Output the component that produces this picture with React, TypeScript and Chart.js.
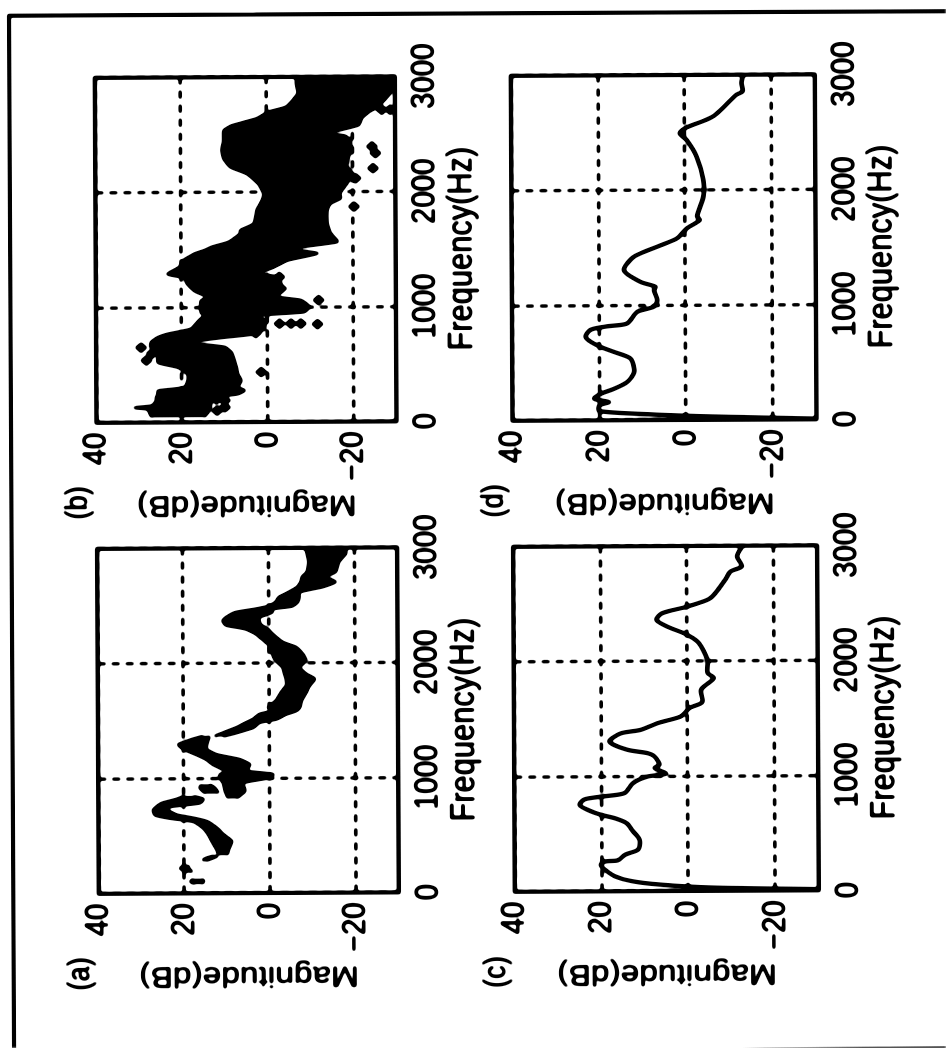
import React, { useEffect, useRef } from "react";
import { Chart, registerables } from "chart.js";

Chart.register(...registerables);

const freqTicks = [0, 1000, 2000, 3000];
const magTicks = [-20, 0, 20, 40];

// Panel (a): filled traces
const aBlob1F = [85, 102, 125];
const aBlob1Hi = [17.6, 18.6, 18];
const aBlob1Lo = [16, 15.5, 15.8];
const aBlob2F = [185, 218, 245];
const aBlob2Hi = [19.5, 21, 20];
const aBlob2Lo = [18.2, 19, 19.2];
const aBlob3F = [285, 305, 325];
const aBlob3Hi = [15.8, 15, 13];
const aBlob3Lo = [15, 13.5, 12.2];
const aMainF = [334, 378, 451, 509, 567, 625, 654, 683, 727, 756, 785, 820, 843];
const aMainHi = [12, 12.4, 13.5, 14.3, 15.5, 17.8, 23.3, 26.8, 27.2, 26.4, 25.2, 21.7, 20];
const aMainLo = [10, 9.7, 8.9, 10.8, 12.4, 14.7, 17.8, 21.7, 24, 23.3, 16.3, 15.5, 17.8];
const aDashF = [872, 915, 945];
const aDashHi = [15, 16.3, 16];
const aDashLo = [12, 12.8, 14];
const aMidF = [828, 887, 959, 1003, 1032, 1061, 1090, 1119, 1163, 1206, 1250, 1294, 1337, 1366];
const aMidHi = [9.7, 10.4, 10.8, 11.6, 11.6, 10, 11.6, 13.2, 14.7, 17, 19.8, 21.3, 18.2, 15.5];
const aMidLo = [7.7, 5.8, 6.2, 0, -0.8, 5.4, 5, 4.6, 7, 12.4, 14.7, 14.7, 14.3, 14];
const aTailF = [1366, 1395, 1439, 1483, 1512, 1555, 1584, 1613, 1672, 1744, 1802, 1860, 1904, 1962, 2020, 2079, 2137, 2180, 2253, 2297, 2331, 2369, 2398, 2442, 2471, 2494, 2529, 2573, 2616, 2660, 2703, 2747, 2791, 2878, 2951, 3000];
const aTailHi = [12.8, 10.8, 7.7, 5.4, 3.8, 2.3, -0.8, 0.3, -1.6, -2.8, -4, -4, -3.6, -3.2, -1.6, -0.8, -0.8, 0.7, 3, 5.4, 10, 10.8, 10, 7.7, 3, 0, -1.6, -2.4, -4.7, -6.7, -7.5, -7.8, -9, -9.4, -9, -8.6];
const aTailLo = [10.8, 7.7, 3.8, 2.3, -1.6, -4, -6.3, -7.1, -7.5, -8.6, -9.4, -10.6, -8.6, -7.1, -8.6, -7.8, -6.3, -3.2, -0.8, 0.3, 1.9, 2.3, 2.3, -0.8, -0.8, -5.5, -6.7, -7.1, -7.1, -12.5, -15.6, -13.3, -15.6, -16.4, -18, -18];

// Panel (b): filled trace and stray points
const bMainF = [49, 58, 87, 118, 130, 145, 188, 217, 246, 275, 304, 362, 420, 478, 522, 565, 609, 652, 696, 739, 768, 812, 884, 928, 957, 1000, 1058, 1087, 1145, 1203, 1261, 1290, 1348, 1406, 1464, 1493, 1522, 1565, 1638, 1667, 1725, 1841, 1899, 1942, 1986, 2073, 2160, 2218, 2290, 2363, 2450, 2484, 2508, 2537, 2580, 2638, 2696, 2740, 2855, 2943, 3000];
const bMainHi = [27, 27.2, 27.6, 28, 31, 27, 26, 26, 25.6, 25.6, 19.4, 18.6, 18.6, 20.8, 25.6, 25.6, 25.6, 27.2, 27.2, 25.6, 23.3, 17.8, 16, 14.7, 15.5, 15.5, 15.5, 13.9, 17, 18.6, 19.4, 23.3, 20.5, 19.6, 17, 14.7, 13, 9, 6.2, 6.2, 3, 2.3, 1.5, 0.9, 0.7, 1.9, 4.6, 8.4, 10, 10.4, 10, 10, 10, 10, 8, 2.3, -0.5, -4.7, -7.4, -7, -7];
const bMainLo = [14.5, 14.7, 14, 13.5, 13.5, 13.4, 13.2, 13.2, 7, 5.4, 7, 6.2, 7, 7.3, 7.7, 8, 8.5, 10, 18.6, 10, 3, 0.7, 0.7, 2.3, -8.6, -9.8, -7.8, -2.4, -3.2, -3.2, -2.4, 2.3, -1.6, -4.7, -11.7, -7, -8, -16.4, -14.8, -14.5, -14, -14, -14.8, -17.2, -17, -18.7, -20, -18.7, -19, -19.5, -19.5, -18.3, -14, -17, -21.5, -22.2, -24, -26, -28.9, -29.6, -29.6];
const bDotF = [101, 130, 190, 200, 435, 540, 600, 652, 774, 855, 855, 855, 849, 1058, 1160, 1261, 1870, 2116, 2203, 2334, 2392, 2711, 2711];
const bDotM = [11.8, 10, 10, 12, 1.5, 28.3, 27, 29.5, 2.7, -2.8, -5.5, -7.8, -11.7, -12, -3.2, -2.8, -20.3, -20.7, -24.8, -25.4, -24.6, -26.9, -28.9];

// Panel (c): smoothed spectrum
const cLineF = [10, 29, 58, 87, 130, 188, 231, 260, 269, 318, 362, 448, 521, 593, 636, 665, 709, 752, 801, 824, 853, 940, 998, 1021, 1070, 1099, 1172, 1200, 1230, 1302, 1374, 1403, 1461, 1519, 1591, 1640, 1750, 1851, 1895, 2011, 2155, 2228, 2300, 2358, 2416, 2473, 2546, 2705, 2777, 2821, 2907, 2994];
const cLineM = [-30, -5.4, 6.9, 13, 16.9, 19.2, 20.2, 19.2, 16.2, 14.6, 11.5, 11.2, 12.7, 14.2, 16.9, 20, 23.1, 25, 23.9, 20, 14.6, 12.7, 9.2, 5, 7.7, 6.5, 7.7, 9.2, 13.9, 18.1, 15.4, 10.8, 6.9, 1.5, -0.4, -3.4, -3.1, -6.1, -4.6, -4.6, -2.7, 0, 4.6, 7.1, 5.8, 0, -5.4, -8.8, -10, -12.7, -11.5, -12.7];

// Panel (d): smoothed spectrum
const dLineF = [6, 29, 52, 81, 130, 159, 188, 232, 275, 333, 420, 536, 594, 652, 725, 789, 818, 841, 942, 986, 1044, 1131, 1160, 1203, 1305, 1421, 1508, 1580, 1667, 1739, 1768, 1942, 2087, 2290, 2435, 2493, 2537, 2638, 2826, 2855, 2928, 2986];
const dLineM = [-30, -6.5, 8.9, 20, 20, 17.7, 21.2, 19.6, 16.5, 13.5, 11.9, 12.7, 16.5, 20.4, 23.1, 21.9, 18.1, 13.5, 11.2, 7.3, 6.5, 7.3, 6.9, 10.4, 14.2, 11.9, 6.5, 1.9, -0.4, -3.4, -2.7, -4.2, -4.2, -2.7, -0.4, 1.2, 0, -6.5, -11.9, -13.4, -13.1, -13.4];

const FONT = "'Liberation Sans', Arial, sans-serif";
const TICK_SIZE = 33.5;
const X_TITLE_SIZE = 35;
const Y_TITLE_SIZE = 33.5;
const TAG_SIZE = 31;

type Pts = { x: number; y: number }[];
const zip = (xs: number[], ys: number[]): Pts => xs.map((x, i) => ({ x, y: ys[i] }));

function band(f: number[], hi: number[], lo: number[]) {
  const base = { borderColor: "#000", backgroundColor: "#000", borderWidth: 2.5, pointRadius: 0, tension: 0.15 };
  return [
    { ...base, data: zip(f, hi), fill: false },
    { ...base, data: zip(f, lo), fill: "-1" },
  ];
}
function line(f: number[], m: number[]) {
  return [{ data: zip(f, m), borderColor: "#000", borderWidth: 3.5, pointRadius: 0, tension: 0.25, fill: false }];
}
function dots(f: number[], m: number[]) {
  return [{ data: zip(f, m), showLine: false, pointStyle: "rectRot", pointRadius: 6, pointBackgroundColor: "#000", pointBorderColor: "#000", pointBorderWidth: 0 }];
}

// The scanned figure is squeezed along its frequency axis.
const SX = 0.88;
const PLOT_W = 345 / SX;
const LEFT_SPACE = 142;
const TOP_SPACE = 45;
const RIGHT_SPACE = 60;
const BOTTOM_SPACE = 90;

const noPadding = (s: any) => {
  s.paddingTop = 0;
  s.paddingBottom = 0;
  s.paddingLeft = 0;
  s.paddingRight = 0;
};

function Panel({ label, datasets, x0, y0, h }: { label: string; datasets: any[]; x0: number; y0: number; h: number }) {
  const ref = useRef<HTMLCanvasElement>(null);
  useEffect(() => {
    const frame = {
      id: "frame",
      afterDatasetsDraw(c: any) {
        const { left, top, width, height } = c.chartArea;
        const ctx = c.ctx;
        ctx.save();
        ctx.strokeStyle = "#000";
        ctx.lineWidth = 3.2;
        ctx.strokeRect(left, top, width, height);
        ctx.fillStyle = "#000";
        ctx.font = `${TAG_SIZE}px ${FONT}`;
        ctx.textAlign = "center";
        ctx.textBaseline = "middle";
        ctx.fillText(label, left - 80 / SX, top - 19);
        ctx.restore();
      },
    };
    const chart = new Chart(ref.current as HTMLCanvasElement, {
      type: "line",
      data: { datasets },
      plugins: [frame],
      options: {
        animation: false,
        responsive: false,
        devicePixelRatio: 1,
        layout: { padding: { top: TOP_SPACE, right: RIGHT_SPACE, bottom: 0, left: 0 } },
        plugins: { legend: { display: false }, tooltip: { enabled: false } },
        scales: {
          x: {
            type: "linear",
            min: 0,
            max: 3000,
            afterBuildTicks: (s: any) => { s.ticks = freqTicks.map((value) => ({ value })); },
            afterFit: (s: any) => { s.height = BOTTOM_SPACE; noPadding(s); },
            grid: { color: "#000", lineWidth: 2.6, drawTicks: false },
            border: { display: false, dash: [8, 6] },
            ticks: { color: "#000", padding: 10, maxRotation: 0, autoSkip: false, font: { family: FONT, size: TICK_SIZE }, callback: (v: any) => String(v) },
            title: { display: true, text: "Frequency(Hz)", color: "#000", font: { family: FONT, size: X_TITLE_SIZE }, padding: { top: 0, bottom: 3 } },
          },
          y: {
            type: "linear",
            min: -30,
            max: 40,
            afterBuildTicks: (s: any) => { s.ticks = magTicks.map((value) => ({ value })); },
            afterFit: (s: any) => { s.width = LEFT_SPACE; noPadding(s); },
            grid: { color: "#000", lineWidth: 2.6, drawTicks: false },
            border: { display: false, dash: [9, 7] },
            ticks: { color: "#000", padding: 11, font: { family: FONT, size: TICK_SIZE }, callback: (v: any) => (v < 0 ? "\u2212" + Math.abs(v) : String(v)) },
            title: { display: true, text: "Magnitude(dB)", color: "#000", font: { family: FONT, size: Y_TITLE_SIZE }, padding: { top: 29, bottom: 0 } },
          },
        },
      } as any,
    });
    return () => chart.destroy();
  }, []);
  const w = PLOT_W + LEFT_SPACE + RIGHT_SPACE;
  const ht = h + TOP_SPACE + BOTTOM_SPACE;
  return (
    <canvas
      ref={ref}
      width={w}
      height={ht}
      style={{ position: "absolute", left: x0 - LEFT_SPACE * SX, top: y0 - TOP_SPACE, width: w, height: ht, transformOrigin: "0 0", transform: `scaleX(${SX})` }}
    />
  );
}

const aSets = [...band(aBlob1F, aBlob1Hi, aBlob1Lo), ...band(aBlob2F, aBlob2Hi, aBlob2Lo), ...band(aBlob3F, aBlob3Hi, aBlob3Lo), ...band(aMainF, aMainHi, aMainLo), ...band(aDashF, aDashHi, aDashLo), ...band(aMidF, aMidHi, aMidLo), ...band(aTailF, aTailHi, aTailLo)];
const bSets = [...band(bMainF, bMainHi, bMainLo), ...dots(bDotF, bDotM)];
const cSets = line(cLineF, cLineM);
const dSets = line(dLineF, dLineM);

export default function App() {
  return (
    <div style={{ position: "fixed", left: 0, top: 0, width: 946, height: 1048, overflow: "hidden", background: "#fff", filter: "blur(0.8px) brightness(0.74) contrast(5)" }}>
      <div style={{ position: "absolute", left: 0, top: 0, width: 946, height: 1048, transform: "rotate(-0.28deg)", transformOrigin: "473px 524px" }}>
        <div style={{ position: "absolute", left: 10, top: 12, width: 1000, height: 1034, border: "3px solid #000", boxSizing: "content-box" }} />
        <div style={{ position: "absolute", left: 0, top: 0, width: 1048, height: 946, transformOrigin: "0 0", transform: "translate(0px, 1048px) rotate(-90deg)" }}>
          <Panel label="(a)" datasets={aSets} x0={155.5} y0={97} h={300} />
          <Panel label="(b)" datasets={bSets} x0={627} y0={97} h={300} />
          <Panel label="(c)" datasets={cSets} x0={155.5} y0={513} h={304} />
          <Panel label="(d)" datasets={dSets} x0={627} y0={513} h={304} />
        </div>
      </div>
    </div>
  );
}
